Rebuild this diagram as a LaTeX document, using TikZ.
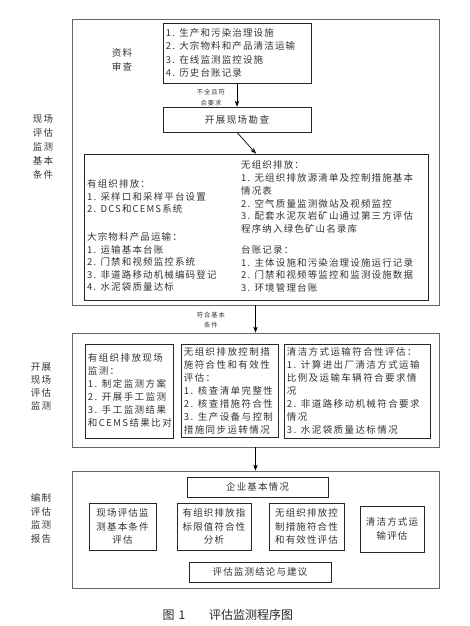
\documentclass[tikz,border=0pt]{standalone}
\usepackage{fontspec}
\setmainfont{Noto Sans CJK SC}[LetterSpace=12]
\newfontfamily\widefont{Noto Sans CJK SC}[LetterSpace=15]
\newfontfamily\smallfont{Noto Sans CJK SC}[LetterSpace=15]
\newfontfamily\capfont{Noto Sans CJK SC}
\usetikzlibrary{arrows.meta}
\begin{document}
\begin{tikzpicture}[x=1pt,y=-1pt,
  obox/.style={draw=black!60, line width=0.8pt, inner sep=0pt},
  ibox/.style={draw=black!85, line width=0.7pt, inner sep=0pt},
  txt/.style={text=black!80, font=\fontsize{9.5}{12.6}\selectfont, align=left, inner sep=0pt},
  wtxt/.style={text=black!80, font=\widefont\fontsize{9.5}{13}\selectfont, align=left, inner sep=0pt, anchor=west},
  ctxt/.style={text=black!80, font=\fontsize{9.5}{13.5}\selectfont, align=center, inner sep=0pt},
  side/.style={text=black!80, font=\fontsize{9.5}{13.5}\selectfont, align=center, inner sep=0pt},
  note/.style={text=black!80, font=\smallfont\fontsize{6.3}{10.5}\selectfont, align=center, inner sep=0pt},
  arr/.style={-{Stealth[length=6pt,width=4.5pt]}, line width=0.7pt, draw=black}
]
\useasboundingbox (0,0) rectangle (470,626);
\fill[white] (0,0) rectangle (470,626);

% ---------- section 1 ----------
\node[obox, minimum width=367pt, minimum height=286pt] (o1) at (255.5,162) {};
\node[ibox, minimum width=148pt, minimum height=60pt] (t1) at (237,53) {};
\node[txt, font=\fontsize{9.5}{13.3}\selectfont, anchor=west] (t1t) at ([xshift=3pt]t1.west)
  {1. 生产和污染治理设施\\2. 大宗物料和产品清洁运输\\3. 在线监测监控设施\\4. 历史台账记录};
\node[side, font=\fontsize{9.5}{14}\selectfont] (l1) at (122,60) {资料\\审查};
\node[ibox, text=black!80, font=\widefont\fontsize{9.5}{12}\selectfont, minimum width=148pt, minimum height=25pt] (t2) at (237,119.5) {开展现场勘查};
\node[note] (q1) at (211,97.5) {不全且符\\合要求};
\draw[arr] (t1.south) -- (t2.north);

\node[ibox, minimum width=344pt, minimum height=146pt] (i1) at (256,227) {};
\draw[arr] (t2.south) -- (i1.north);
\node[txt, font=\fontsize{9.5}{12.5}\selectfont, anchor=north west] (a1) at (87,179.5)
  {有组织排放：\\1. 采样口和采样平台设置\\2. DCS和CEMS系统};
\node[txt, font=\fontsize{9.5}{12.5}\selectfont, anchor=north west] (a2) at (87,232.5)
  {大宗物料产品运输：\\1. 运输基本台账\\2. 门禁和视频监控系统\\3. 非道路移动机械编码登记\\4. 水泥袋质量达标};
\node[txt, font=\fontsize{9.5}{12.8}\selectfont, anchor=north west] (b1) at (241,160.5)
  {无组织排放：\\1. 无组织排放源清单及控制措施基本\\情况表\\2. 空气质量监测微站及视频监控\\3. 配套水泥灰岩矿山通过第三方评估\\程序纳入绿色矿山名录库};
\node[txt, font=\fontsize{9.5}{12.5}\selectfont, anchor=north west] (b2) at (241,245.5)
  {台账记录：\\1. 主体设施和污染治理设施运行记录\\2. 门禁和视频等监控和监测设施数据\\3. 环境管理台账};
\node[side, font=\fontsize{9.5}{14}\selectfont] (l2) at (43,147) {现场\\评估\\监测\\基本\\条件};

% ---------- section 2 ----------
\node[obox, minimum width=367pt, minimum height=114pt] (o2) at (255.5,390) {};
\draw[arr] (o1.south) -- (o2.north);
\node[note] (q2) at (211,320) {符合基本\\条件};
\node[ibox, minimum width=88pt, minimum height=94pt] (c1) at (129,391) {};
\node[wtxt] (c1t) at ([xshift=3pt,yshift=1pt]c1.west)
  {有组织排放现场\\监测：\\1. 制定监测方案\\2. 开展手工监测\\3. 手工监测结果\\和CEMS结果比对};
\node[ibox, minimum width=97pt, minimum height=93pt] (c2) at (229.5,390.5) {};
\node[wtxt] (c2t) at ([xshift=3pt]c2.west)
  {无组织排放控制措\\施符合性和有效性\\评估：\\1. 核查清单完整性\\2. 核查措施符合性\\3. 生产设备与控制\\措施同步运转情况};
\node[ibox, minimum width=146pt, minimum height=94pt] (c3) at (357,391) {};
\node[wtxt] (c3t) at ([xshift=3pt]c3.west)
  {清洁方式运输符合性评估：\\1. 计算进出厂清洁方式运输\\比例及运输车辆符合要求情\\况\\2. 非道路移动机械符合要求\\情况\\3. 水泥袋质量达标情况};
\node[side, font=\fontsize{9.5}{13}\selectfont] (l3) at (41,386.5) {开展\\现场\\评估\\监测};

% ---------- section 3 ----------
\node[obox, minimum width=367pt, minimum height=117pt] (o3) at (255.5,529.5) {};
\draw[arr] (o2.south) -- (o3.north);
\node[ibox, ctxt, minimum width=141pt, minimum height=20pt] (e1) at (257.5,487) {企业基本情况};
\node[ibox, ctxt, minimum width=67pt, minimum height=47pt] (d1) at (122.5,526.5) {现场评估监\\测基本条件\\评估};
\node[ibox, ctxt, minimum width=74pt, minimum height=47pt] (d2) at (214,526.5) {有组织排放指\\标限值符合性\\分析};
\node[ibox, ctxt, minimum width=75pt, minimum height=47pt] (d3) at (306.5,526.5) {无组织排放控\\制措施符合性\\和有效性评估};
\node[ibox, ctxt, minimum width=64pt, minimum height=46pt] (d4) at (392,529) {清洁方式运\\输评估};
\node[ibox, ctxt, minimum width=142pt, minimum height=20pt] (e2) at (260,572) {评估监测结论与建议};
\node[side, font=\fontsize{9.5}{13.7}\selectfont] (l4) at (41,518.5) {编制\\评估\\监测\\报告};

% ---------- caption ----------
\node[text=black!85, font=\capfont\fontsize{12}{14}\selectfont, inner sep=0pt] (cap1) at (174,615) {图\hspace{4pt}1};
\node[text=black!85, font=\capfont\fontsize{12}{14}\selectfont, inner sep=0pt] (cap2) at (251,615) {评估监测程序图};
\end{tikzpicture}
\end{document}
